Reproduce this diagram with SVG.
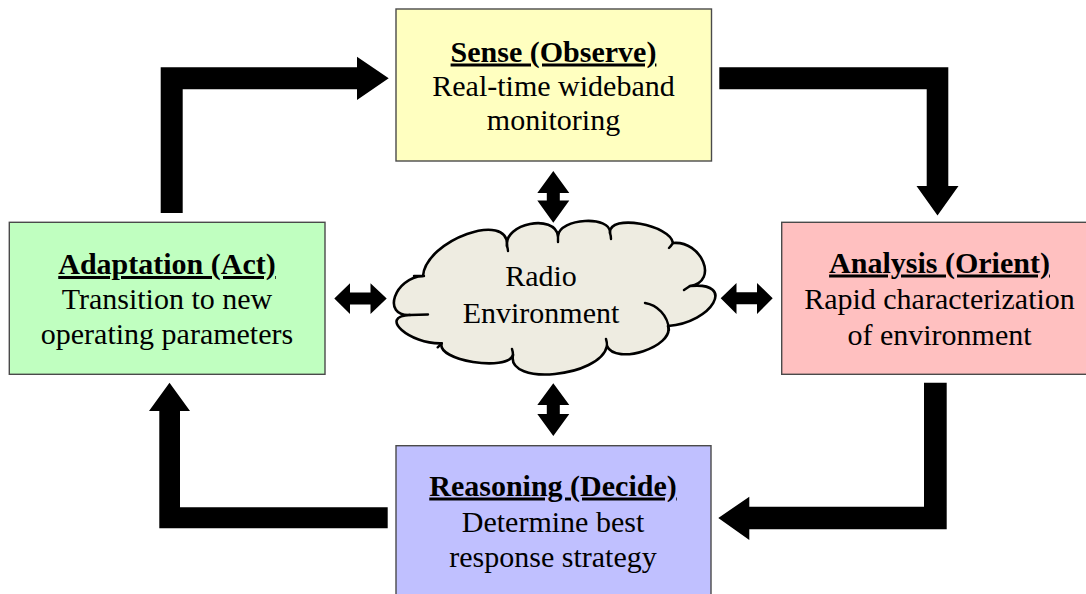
<svg xmlns="http://www.w3.org/2000/svg" width="1086" height="594" viewBox="0 0 1086 594">
<style>
.box{stroke:#4a4a4a;stroke-width:1.4}
.t{font-family:'Liberation Serif','Times New Roman',serif;font-size:30px;fill:#000;text-anchor:middle}
.h{font-weight:bold;text-decoration:underline}
.arr{fill:#000}
.cloud{fill:#EEECE1;stroke:#000;stroke-width:2.6;stroke-linejoin:round}
.inner{fill:none;stroke:#000;stroke-width:2.4;stroke-linecap:round}
</style>
<rect width="1086" height="594" fill="#fff"/>
<g id="connectors">
<polygon class="arr" points="160.7,213 160.7,67.3 357,67.3 357,56.7 388.7,78.3 357,100 357,89.3 182.7,89.3 182.7,213"/>
<polygon class="arr" points="719.3,67.3 948.3,67.3 948.3,186 958.5,186 937.5,215.5 916.5,186 926.7,186 926.7,89.3 719.3,89.3"/>
<polygon class="arr" points="924,382.7 946.7,382.7 946.7,529.3 749.3,529.3 749.3,540 718.3,518 749.3,496.7 749.3,506.7 924,506.7"/>
<polygon class="arr" points="387.7,507.3 387.7,528.3 159.3,528.3 159.3,411 149,411 169.5,382.7 190,411 180,411 180,507.3"/>
<polygon class="arr" points="553.3,171 569.3,193 559.8,193 559.8,200.5 569.3,200.5 553.3,222.7 537.3,200.5 546.8,200.5 546.8,193 537.3,193"/>
<polygon class="arr" points="553.3,383.3 569.3,405 559.8,405 559.8,414 569.3,414 553.3,436 537.3,414 546.8,414 546.8,405 537.3,405"/>
<polygon class="arr" points="334.3,298.5 350,283.3 350,292.5 370.5,292.5 370.5,283.3 386.7,298.5 370.5,314 370.5,304.5 350,304.5 350,314"/>
<polygon class="arr" points="720.7,298.3 736.5,283 736.5,292.3 757,292.3 757,283 772.7,298.3 757,314 757,304.3 736.5,304.3 736.5,314"/>
</g>
<g id="cloud">
<path class="cloud" d="M410,315 C381.3,316.6 394.3,277.6 423,276 C425.7,240 509.7,210 507,246 C503.7,223.3 554.7,213.3 558,236 C559.3,218 611.3,215 610,233 C608.7,213 670.7,225 673,243 C701.3,240.3 719.3,281.3 690,286 C736.7,281.3 712.7,322.3 668,326 C674.7,346.7 615.7,365.7 607,346 C600.3,377.3 506.3,386.3 513,355 C507.2,372.1 435.9,360.4 441.7,343.3 C409.5,344.4 377.8,316.1 410,315 Z"/>
<path class="inner" d="M414,276 L424,276 M410,315 L428,314.5 M507,246 q1,3 1,5 M558,236 q0,3 0,6 M610,233 q1,3 1,6 M673,243 q-2,3 -4,5 M690,286 q-3,2 -6,4 M645,303 C657,305 668,315 669,330 M607,346 q0,-4 -1,-7 M513,355 q0,-3 -1,-6 M441.7,343.3 q-2,2 -4,4"/>
<text class="t" x="541" y="286">Radio</text>
<text class="t" x="541" y="322.5">Environment</text>
</g>
<g id="sense">
<rect class="box" x="396" y="9" width="315.5" height="152" fill="#FFFFC0"/>
<text class="t h" x="553.5" y="61.5">Sense (Observe)</text>
<text class="t" x="553.5" y="95.5">Real-time wideband</text>
<text class="t" x="553.5" y="129.5">monitoring</text>
</g>
<g id="analysis">
<rect class="box" x="781.7" y="222.3" width="315.5" height="152" fill="#FFC0C0"/>
<text class="t h" x="939.5" y="272.5">Analysis (Orient)</text>
<text class="t" x="939.5" y="308.5">Rapid characterization</text>
<text class="t" x="939.5" y="344.5">of environment</text>
</g>
<g id="reasoning">
<rect class="box" x="396" y="445.7" width="315" height="152" fill="#C0C0FF"/>
<text class="t h" x="553" y="495.5">Reasoning (Decide)</text>
<text class="t" x="553" y="531.5">Determine best</text>
<text class="t" x="553" y="567">response strategy</text>
</g>
<g id="adaptation">
<rect class="box" x="9.3" y="222.3" width="315.7" height="152" fill="#C0FFC0"/>
<text class="t h" x="167" y="274">Adaptation (Act)</text>
<text class="t" x="167" y="309">Transition to new</text>
<text class="t" x="167" y="343.5">operating parameters</text>
</g>
</svg>
